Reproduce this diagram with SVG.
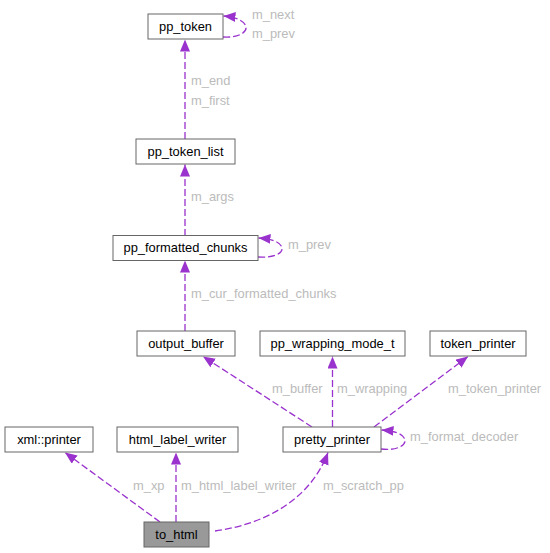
<svg xmlns="http://www.w3.org/2000/svg" width="550" height="553" viewBox="0 0 550 553">
<style>
.n rect{fill:#ffffff;stroke:#666666;stroke-width:1}
.n text{font-family:"Liberation Sans",Arial,sans-serif;font-size:12.9px;fill:#000000;text-anchor:middle}
#to_html rect{fill:#999999}
.e path{fill:none;stroke:#9a32cd;stroke-width:1.3;stroke-dasharray:7,3;marker-end:url(#ah)}
.l text{font-family:"Liberation Sans",Arial,sans-serif;font-size:12.9px;fill:#bbbbbb}
</style>
<defs>
<marker id="ah" markerUnits="userSpaceOnUse" markerWidth="13" markerHeight="11" refX="12" refY="5" orient="auto">
<path d="M0,0 L12,5 L0,10 Z" fill="#9a32cd"/>
</marker>
</defs>
<rect width="550" height="553" fill="#ffffff"/>
<g id="edges" class="e">
<path d="M185,139 L185,39.5"/>
<path d="M223,37 C237,38 247,33 246,27 C245,21 236,17 223.5,16"/>
<path d="M185,236 L185,164.5"/>
<path d="M258,257 C272,258 283,254 282,248 C281,242 272,239 258.5,238"/>
<path d="M185,331 L185,260.5"/>
<path d="M312,427 L203,356.5"/>
<path d="M332.5,427 L332.5,356.5"/>
<path d="M374,427 L468,356.5"/>
<path d="M381,449 C395,451 406,446 405,440 C404,434 395,431 381.5,430"/>
<path d="M160,522 L65,452.5"/>
<path d="M176,522 L176,452.5"/>
<path d="M215,531 C265,524 310,500 328,452.5"/>
</g>
<g id="labels" class="l">
<text x="252" y="19">m_next</text>
<text x="252" y="38">m_prev</text>
<text x="191" y="85">m_end</text>
<text x="191" y="105">m_first</text>
<text x="191" y="201">m_args</text>
<text x="288" y="249">m_prev</text>
<text x="191" y="297.5">m_cur_formatted_chunks</text>
<text x="272" y="393">m_buffer</text>
<text x="337" y="393">m_wrapping</text>
<text x="448" y="393">m_token_printer</text>
<text x="410" y="441">m_format_decoder</text>
<text x="133" y="489.5">m_xp</text>
<text x="181" y="489.5">m_html_label_writer</text>
<text x="323" y="489.5">m_scratch_pp</text>
</g>
<g id="pp_token" class="n"><rect x="148" y="14" width="75" height="25"/><text x="185.5" y="30.5">pp_token</text></g>
<g id="pp_token_list" class="n"><rect x="136" y="139" width="99" height="25"/><text x="185.5" y="155.5">pp_token_list</text></g>
<g id="pp_formatted_chunks" class="n"><rect x="113" y="235.5" width="145" height="25"/><text x="185.5" y="252">pp_formatted_chunks</text></g>
<g id="output_buffer" class="n"><rect x="137" y="331" width="98" height="25"/><text x="186" y="347.5">output_buffer</text></g>
<g id="pp_wrapping_mode_t" class="n"><rect x="260" y="331" width="145" height="25"/><text x="332.5" y="347.5">pp_wrapping_mode_t</text></g>
<g id="token_printer" class="n"><rect x="430" y="331" width="96" height="25"/><text x="478" y="347.5">token_printer</text></g>
<g id="xml_printer" class="n"><rect x="5" y="427" width="88" height="25"/><text x="49" y="443.5">xml::printer</text></g>
<g id="html_label_writer" class="n"><rect x="117" y="427" width="121" height="25"/><text x="177.5" y="443.5">html_label_writer</text></g>
<g id="pretty_printer" class="n"><rect x="283" y="427" width="98" height="25"/><text x="332" y="443.5">pretty_printer</text></g>
<g id="to_html" class="n"><rect x="144" y="522" width="65" height="25"/><text x="176.5" y="538.5">to_html</text></g>
</svg>
